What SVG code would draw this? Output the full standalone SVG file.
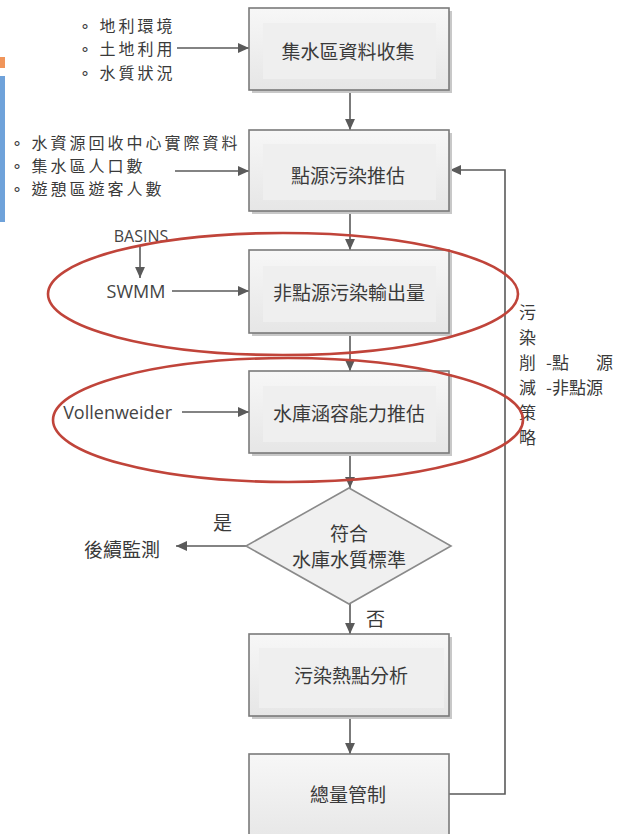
<svg xmlns="http://www.w3.org/2000/svg" width="617" height="834" viewBox="0 0 617 834">
<style>
.box{fill:url(#g);stroke:#7a7a7a;stroke-width:1.6}
.inner{fill:#efefef;stroke:none}
.sh{fill:#c8c8c8}
.t{font-family:"Noto Sans CJK TC","Noto Sans CJK SC",sans-serif;font-size:19px;fill:#3a3a3a;dominant-baseline:central}
.b{font-size:16px;letter-spacing:3px}
.v{font-size:17px}
.c{text-anchor:middle}
.e{font-family:"Open Sans","Liberation Sans",sans-serif;fill:#444;dominant-baseline:central}
.ln{stroke:#5a5a5a;stroke-width:1.6;fill:none}
.ar{marker-end:url(#ah)}
.ov{fill:none;stroke:#c0443a;stroke-width:2.6}
</style>
<defs>
<linearGradient id="g" x1="0" y1="0" x2="0" y2="1">
<stop offset="0" stop-color="#f7f7f7"/>
<stop offset="1" stop-color="#e6e6e6"/>
</linearGradient>
<marker id="ah" viewBox="0 0 10 10" refX="10" refY="5" markerWidth="11" markerHeight="11" markerUnits="userSpaceOnUse" orient="auto">
<path d="M0,0.5 L10,5 L0,9.5 Z" fill="#5a5a5a"/>
</marker>
</defs>
<rect x="0" y="0" width="617" height="834" fill="#ffffff"/>
<rect x="0" y="57" width="5" height="11" fill="#f0955a"/>
<rect x="0" y="76" width="5" height="146" fill="#6fa2da"/>

<g id="connectors">
<path class="ln ar" d="M177,48 H249"/>
<path class="ln ar" d="M175,171 H249"/>
<path class="ln ar" d="M140,246 V278"/>
<path class="ln ar" d="M172,291 H249"/>
<path class="ln ar" d="M182,412 H249"/>
<path class="ln ar" d="M350,90 V130"/>
<path class="ln ar" d="M350,211 V250"/>
<path class="ln ar" d="M350,333 V371"/>
<path class="ln ar" d="M350,453 V488"/>
<path class="ln ar" d="M350,604 V634"/>
<path class="ln ar" d="M350,716 V754"/>
<path class="ln ar" d="M246,546 H176"/>
<path class="ln ar" d="M449,794 H505 V170 H450"/>
</g>

<g id="inputs1">
<text class="t b" x="80" y="25">∘ 地利環境</text>
<text class="t b" x="80" y="48">∘ 土地利用</text>
<text class="t b" x="80" y="72">∘ 水質狀況</text>
</g>
<g id="inputs2">
<text class="t b" x="12" y="142">∘ 水資源回收中心實際資料</text>
<text class="t b" x="12" y="165">∘ 集水區人口數</text>
<text class="t b" x="12" y="188">∘ 遊憩區遊客人數</text>
</g>
<g id="basins"><text class="e" x="141" y="236" font-size="16" text-anchor="middle">BASINS</text></g>
<g id="swmm"><text class="e" x="136" y="291" font-size="18" text-anchor="middle">SWMM</text></g>
<g id="vollenweider"><text class="e" x="172" y="412" font-size="18" text-anchor="end">Vollenweider</text></g>

<g id="n1">
<rect class="sh" x="252" y="11" width="200" height="82"/>
<rect class="box" x="249" y="8" width="200" height="82"/>
<rect class="inner" x="263" y="23" width="173" height="56"/>
<text class="t c" x="348" y="50">集水區資料收集</text>
</g>
<g id="n2">
<rect class="sh" x="252" y="133" width="200" height="81"/>
<rect class="box" x="249" y="130" width="200" height="81"/>
<rect class="inner" x="263" y="144" width="173" height="56"/>
<text class="t c" x="348" y="174">點源污染推估</text>
</g>
<g id="n3">
<rect class="sh" x="252" y="253" width="200" height="83"/>
<rect class="box" x="249" y="250" width="200" height="83"/>
<rect class="inner" x="263" y="266" width="173" height="56"/>
<text class="t c" x="349" y="291">非點源污染輸出量</text>
</g>
<g id="n4">
<rect class="sh" x="252" y="374" width="200" height="82"/>
<rect class="box" x="249" y="371" width="200" height="82"/>
<rect class="inner" x="263" y="386" width="173" height="56"/>
<text class="t c" x="349" y="412">水庫涵容能力推估</text>
</g>
<g id="n5">
<path d="M349,488 L451,546 L349,604 L246,546 Z" fill="#f0f0f0" stroke="#8a8a8a" stroke-width="1.6"/>
<text class="t c" x="349" y="532">符合</text>
<text class="t c" x="349" y="558">水庫水質標準</text>
</g>
<g id="n6">
<rect class="sh" x="252" y="637" width="200" height="82"/>
<rect class="box" x="249" y="634" width="200" height="82"/>
<rect class="inner" x="259" y="648" width="185" height="60"/>
<text class="t c" x="351" y="674">污染熱點分析</text>
</g>
<g id="n7">
<rect class="box" x="249" y="754" width="200" height="90"/>
<text class="t c" x="348" y="793">總量管制</text>
</g>
<g id="yes"><text class="t" x="213" y="521">是</text><text class="t" x="84" y="548">後續監測</text></g>
<g id="no"><text class="t" x="366" y="617">否</text></g>
<g id="strategy">
<text class="t v" x="519" y="311">污</text>
<text class="t v" x="519" y="336">染</text>
<text class="t v" x="519" y="361">削</text>
<text class="t v" x="519" y="386">減</text>
<text class="t v" x="519" y="411">策</text>
<text class="t v" x="519" y="436">略</text>
<text class="t v" x="546" y="361">-點</text>
<text class="t v" x="596" y="361">源</text>
<text class="t v" x="546" y="386">-非點源</text>
</g>
<g id="highlights">
<ellipse class="ov" cx="283" cy="294" rx="235" ry="61"/>
<ellipse class="ov" cx="288" cy="420" rx="235" ry="62"/>
</g>
</svg>
